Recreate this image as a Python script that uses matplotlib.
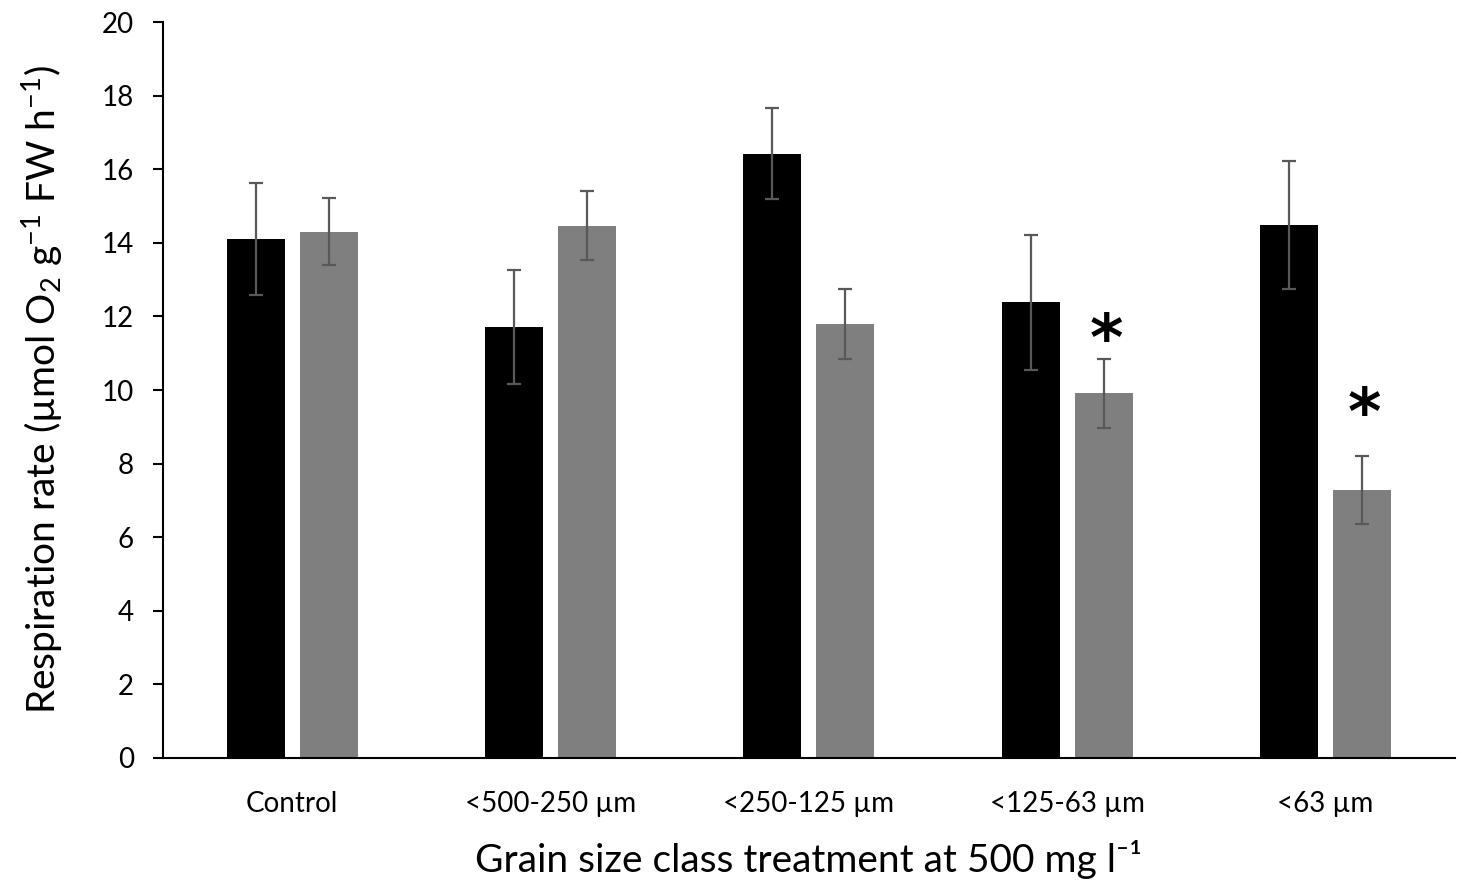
import matplotlib
matplotlib.use("Agg")
import matplotlib.pyplot as plt
import numpy as np

# categories and values
categories = ["Control", "<500-250 µm", "<250-125 µm", "<125-63 µm", "<63 µm"]
black_vals = [14.11, 11.72, 16.42, 12.38, 14.48]
black_err = [1.52, 1.55, 1.24, 1.84, 1.73]
grey_vals = [14.30, 14.47, 11.79, 9.91, 7.29]
grey_err = [0.91, 0.94, 0.96, 0.94, 0.92]
# height of the significance stars (None = no star)
star_y = [None, None, None, 11.7, 9.7]

plt.rcParams['font.family'] = ['Lato', 'DejaVu Sans']
plt.rcParams['mathtext.fontset'] = 'custom'
plt.rcParams['mathtext.rm'] = 'Lato'
plt.rcParams['mathtext.it'] = 'Lato:italic'

fig = plt.figure(figsize=(14.68, 8.88), dpi=100)
ax = fig.add_axes([0.111, 0.1464, 0.880, 0.8288])

x = np.arange(len(categories))
w = 0.225
off = 0.1415

err_kw = dict(ecolor='#595959', elinewidth=1.6, capsize=5, capthick=1.6)
ax.bar(x - off, black_vals, w, color='black', yerr=black_err, error_kw=err_kw)
ax.bar(x + off, grey_vals, w, color='#7f7f7f', yerr=grey_err, error_kw=err_kw)

# asterisks above significant grey bars
for i in range(len(categories)):
    if star_y[i] is not None:
        # the glyph sits high in its box, so pull it down a bit
        ax.text(x[i] + off + 0.01, star_y[i] - 0.4, "*", ha='center', va='center',
                fontsize=46, fontweight='bold', family='DejaVu Sans')

ax.set_xlim(-0.5, 4.5)
ax.set_ylim(0, 20)
ax.set_yticks(range(0, 21, 2))
ax.set_xticks(x)
ax.set_xticklabels(categories, fontsize=20)
ax.tick_params(axis='x', length=0, pad=24)
ax.tick_params(axis='y', length=7, width=1.5, labelsize=20, pad=14)

for s in ['top', 'right']:
    ax.spines[s].set_visible(False)
ax.spines['left'].set_linewidth(1.5)
ax.spines['bottom'].set_linewidth(1.5)

ax.set_ylabel("Respiration rate (µmol O$_\\mathrm{2}$ g$^\\mathrm{-1}$ FW h$^\\mathrm{-1}$)",
              fontsize=28, labelpad=26)
ax.set_xlabel("Grain size class treatment at 500 mg l⁻¹", fontsize=28, labelpad=16)

plt.savefig("out.png", dpi=100)
